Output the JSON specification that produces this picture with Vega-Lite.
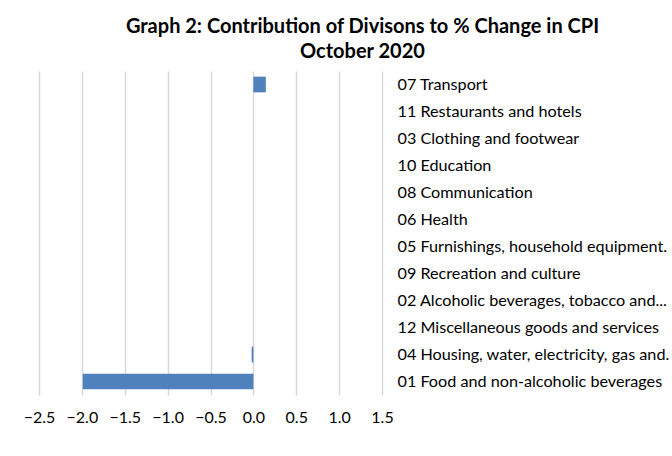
{
  "$schema": "https://vega.github.io/schema/vega-lite/v6.json",
  "autosize": "none",
  "width": 343,
  "height": 324,
  "padding": {"left": 39, "top": 71, "right": 290, "bottom": 61},
  "background": "white",
  "title": {
    "text": ["Graph 2: Contribution of Divisons to % Change in CPI", "October 2020"],
    "font": "Lato",
    "fontSize": 20,
    "fontWeight": "bold",
    "color": "#000000",
    "anchor": "middle",
    "dx": 152,
    "lineHeight": 25,
    "offset": 9
  },
  "data": {
    "values": [
      {"division": "07 Transport", "value": 0.145},
      {"division": "11 Restaurants and hotels", "value": 0},
      {"division": "03 Clothing and footwear", "value": 0},
      {"division": "10 Education", "value": 0},
      {"division": "08 Communication", "value": 0},
      {"division": "06 Health", "value": 0},
      {"division": "05 Furnishings, household equipment.", "value": 0},
      {"division": "09 Recreation and culture", "value": 0},
      {"division": "02 Alcoholic beverages, tobacco and...", "value": 0},
      {"division": "12 Miscellaneous goods and services", "value": 0},
      {"division": "04 Housing, water, electricity, gas and.", "value": -0.02},
      {"division": "01 Food and non-alcoholic beverages", "value": -1.99}
    ]
  },
  "mark": {"type": "bar", "color": "#4F81BD"},
  "encoding": {
    "y": {
      "field": "division",
      "type": "nominal",
      "sort": null,
      "scale": {"paddingInner": 0.42, "paddingOuter": 0.21},
      "axis": {
        "orient": "right",
        "title": null,
        "domain": false,
        "ticks": false,
        "grid": false,
        "labelAlign": "left",
        "labelPadding": 15,
        "labelFont": "Lato",
        "labelFontSize": 16.2,
        "labelColor": "#000000",
        "labelLimit": 300
      }
    },
    "x": {
      "field": "value",
      "type": "quantitative",
      "scale": {"domain": [-2.5, 1.5], "nice": false, "zero": false},
      "axis": {
        "orient": "bottom",
        "title": null,
        "values": [-2.5, -2, -1.5, -1, -0.5, 0, 0.5, 1, 1.5],
        "format": ".1f",
        "domain": false,
        "ticks": false,
        "grid": true,
        "gridColor": "#d9d9d9",
        "gridWidth": 1.5,
        "labelPadding": 14,
        "labelFont": "Lato",
        "labelFontSize": 16,
        "labelColor": "#000000",
        "labelFlush": false,
        "labelOverlap": false
      }
    }
  },
  "config": {"view": {"stroke": null}}
}
